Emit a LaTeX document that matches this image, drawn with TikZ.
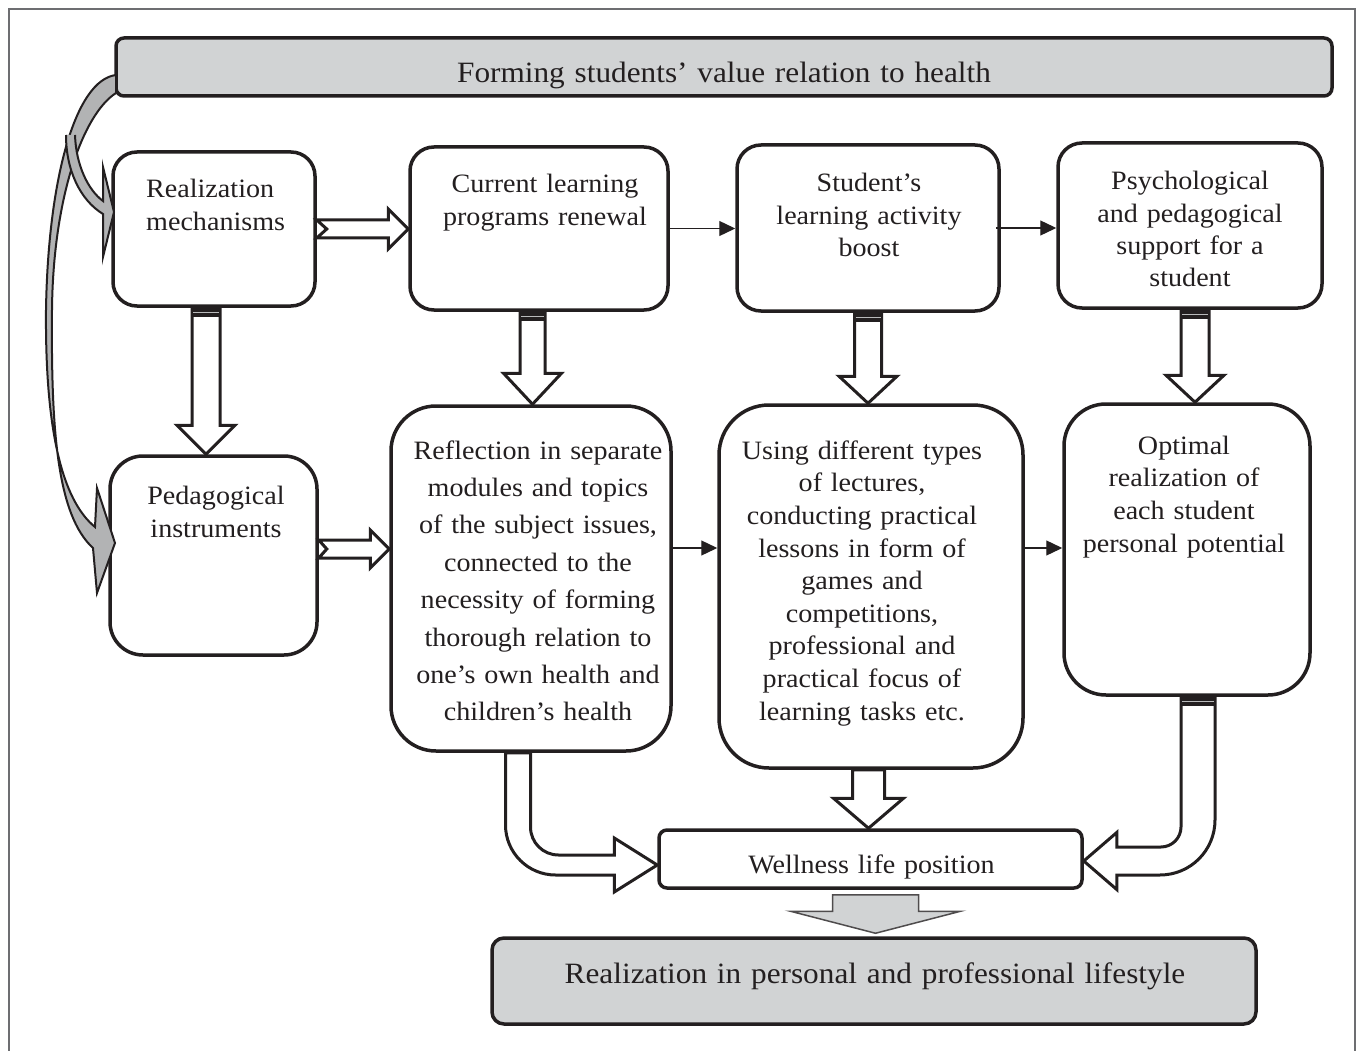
\documentclass[tikz,border=0pt]{standalone}
\usepackage{fontspec}
\setmainfont{Liberation Serif}[FakeStretch=1.06]
\usetikzlibrary{calc,arrows.meta}
\definecolor{ink}{HTML}{231F20}
\definecolor{boxgray}{HTML}{D1D3D4}
\definecolor{framegray}{HTML}{6D6E71}
\newcommand{\downblk}[6][blk]{%
  \draw[#1] let \p1=#2, \p2=#3 in
    (\x1-#4,\y1) -- (\x1-#4,\y2+#6) -- (\x1-#5,\y2+#6) -- (\x1,\y2)
    -- (\x1+#5,\y2+#6) -- (\x1+#4,\y2+#6) -- (\x1+#4,\y1) -- cycle;}
\newcommand{\rightblk}[6]{%
  \draw[blk] let \p1=#1, \p2=#2 in
    (\x1,\y1+#3) -- (\x2-#5,\y1+#3) -- (\x2-#5,\y1+#4) -- (\x2,\y1)
    -- (\x2-#5,\y1-#4) -- (\x2-#5,\y1-#3) -- (\x1,\y1-#3) -- (\x1+#6,\y1) -- cycle;}
\newcommand{\topband}[2]{%
  \fill[ink] let \p1=#1 in (\x1-#2,\y1) rectangle (\x1+#2,\y1-9pt);
  \draw[boxgray!70!gray, line width=1pt] let \p1=#1 in (\x1-#2+1pt,\y1-5pt) -- (\x1+#2-1pt,\y1-5pt);}
\tikzset{
  box/.style={draw=ink, fill=white, line width=3.5pt, rounded corners=#1, inner sep=0pt},
  box/.default=24pt,
  graybox/.style={box=#1, fill=boxgray},
  txt/.style={text=ink, inner sep=0pt, align=center, text width=300pt,
              font=\fontsize{26.5}{33}\selectfont},
  blk/.style={draw=ink, fill=white, line width=3pt, line join=miter},
  gblk/.style={draw=ink!80, fill=boxgray, line width=1.5pt},
  thinarr/.style={draw=ink, line width=1.3pt, -{Triangle[length=16pt,width=15pt]}},
  garrow/.style={draw=ink, fill=boxgray!85!black, line width=2pt, line join=miter},
}
\begin{document}
\begin{tikzpicture}[x=1pt, y=-1pt]
\useasboundingbox (0,0) rectangle (1358,1051);
% frame
\draw[framegray, line width=1.5pt] (9,1051) -- (9,9) -- (1355,9) -- (1355,1051);

% title
\node[graybox=8pt, minimum width=1216pt, minimum height=58pt] (tt) at (724,67) {};
\node[txt, font=\fontsize{29.5}{35}\selectfont, text width=700pt, anchor=base] (ttt) at (724,83)
  {Forming students’ value relation to health};

% top row
\node[box, minimum width=202pt, minimum height=154pt] (rm) at (214,229) {};
\node[txt, align=left, text width=200pt, anchor=base west] (rmt) at (146,198) {Realization\\mechanisms};

\node[box, minimum width=258pt, minimum height=163pt] (cl) at (539,228.5) {};
\node[txt, anchor=base] (clt) at (545,193) {Current learning\\programs renewal};

\node[box, minimum width=262pt, minimum height=166pt] (sb) at (868,228) {};
\node[txt, anchor=base, font=\fontsize{26.5}{32.5}\selectfont] (sbt) at (869,191.7)
  {Student’s\\learning activity\\boost};

\node[box, minimum width=264pt, minimum height=165pt] (ps) at (1190,225.5) {};
\node[txt, anchor=base, font=\fontsize{26.5}{32.3}\selectfont] (pst) at (1190,190)
  {Psychological\\and pedagogical\\support for a\\student};

% middle row
\node[box=33pt, minimum width=207pt, minimum height=199pt] (pi) at (213.5,555.5) {};
\node[txt, anchor=base] (pit) at (216,504) {Pedagogical\\instruments};

\node[box=45pt, minimum width=280pt, minimum height=345pt] (rf) at (531,578.5) {};
\node[txt, anchor=base, font=\fontsize{26.5}{37.4}\selectfont] (rft) at (538,459)
  {Reflection in separate\\modules and topics\\of the subject issues,\\connected to the\\necessity of forming\\thorough relation to\\one’s own health and\\children’s health};

\node[box=50pt, minimum width=304pt, minimum height=363pt] (ud) at (871,586.5) {};
\node[txt, anchor=base, font=\fontsize{26.5}{32.6}\selectfont] (udt) at (862,459.3)
  {Using different types\\of lectures,\\conducting practical\\lessons in form of\\games and\\competitions,\\professional and\\practical focus of\\learning tasks etc.};

\node[box=42pt, minimum width=246pt, minimum height=291pt] (op) at (1187,549.5) {};
\node[txt, anchor=base, font=\fontsize{26.5}{32.7}\selectfont] (opt) at (1184,454)
  {Optimal\\realization of\\each student\\personal potential};

% bottom
\node[box=8pt, minimum width=423pt, minimum height=58pt] (wl) at (870.5,859) {};
\node[txt, anchor=base, text width=500pt] (wlt) at (871.5,873) {Wellness life position};

\node[graybox=12pt, minimum width=764pt, minimum height=86pt] (rp) at (874,981) {};
\node[txt, font=\fontsize{29.5}{35}\selectfont, text width=760pt, anchor=base] (rpt) at (875,983)
  {Realization in personal and professional lifestyle};

% thin arrows
\coordinate (ymid) at (0,548);
\draw[thinarr] (cl.east) -- (cl.east -| sb.west);
\draw[thinarr] ($(sb.east)+(-5,0)$) -- (ps.west |- sb.east);
\draw[thinarr] (rf.east |- ymid) -- (ud.west |- ymid);
\draw[thinarr] (ud.east |- ymid) -- (op.west |- ymid);

% block arrows right
\rightblk{(rm.east)}{(cl.west)}{9pt}{20pt}{20pt}{10pt}
\rightblk{($(pi.east)+(0,-6.5)$)}{(rf.west)}{9pt}{19pt}{19pt}{8pt}

% block arrows down
\downblk{($(rm.south)+(-8,0)$)}{(pi.north)}{14pt}{29pt}{29pt}
\topband{($(rm.south)+(-8,0)$)}{14pt}
\downblk{($(cl.south)+(-6.5,0)$)}{(rf.north)}{12.5pt}{29pt}{31pt}
\topband{($(cl.south)+(-6.5,0)$)}{12.5pt}
\downblk{(sb.south)}{(ud.north)}{13.5pt}{29pt}{27pt}
\topband{(sb.south)}{13.5pt}
\downblk{($(ps.south)+(5,0)$)}{(op.north)}{14pt}{29pt}{27pt}
\topband{($(ps.south)+(5,0)$)}{14pt}
\downblk{($(ud.south)+(-2.5,0)$)}{(wl.north)}{16pt}{35pt}{30pt}
\downblk[gblk]{($(wl.south)+(5,5)$)}{($(rp.north)+(0,-3)$)}{43pt}{85pt}{22pt}

% bent arrow left: rf -> wl
\draw[blk] let \p1=($(rf.south)+(-13,0)$), \p2=($(wl.west)+(0,6)$) in
  (\x1-12.5pt,\y1) -- (\x1-12.5pt,\y2+40pt)
  .. controls (\x1-12.5pt,\y2+12.4pt) and (\x1+10pt,\y2-10pt) .. (\x1+37.5pt,\y2-10pt)
  -- (\x2-43pt,\y2-10pt) -- (\x2-43pt,\y2-27pt) -- (\x2,\y2) -- (\x2-43pt,\y2+27pt)
  -- (\x2-43pt,\y2+10pt) -- (\x1+40.5pt,\y2+10pt)
  .. controls (\x1+25pt,\y2+10pt) and (\x1+12.5pt,\y2+22.5pt) .. (\x1+12.5pt,\y2+38pt)
  -- (\x1+12.5pt,\y1) -- cycle;

% bent arrow right: op -> wl
\draw[blk] let \p1=($(op.south)+(11,0)$), \p2=($(wl.east)+(0,2)$) in
  (\x1-17pt,\y1) -- (\x1-17pt,\y2+34pt)
  .. controls (\x1-17pt,\y2+23pt) and (\x1-26pt,\y2+14pt) .. (\x1-37pt,\y2+14pt)
  -- (\x2+33pt,\y2+14pt) -- (\x2+33pt,\y2+28.5pt) -- (\x2,\y2) -- (\x2+33pt,\y2-28.5pt)
  -- (\x2+33pt,\y2-14pt) -- (\x1-38pt,\y2-14pt)
  .. controls (\x1-7.6pt,\y2-14pt) and (\x1+17pt,\y2+10.6pt) .. (\x1+17pt,\y2+41pt)
  -- (\x1+17pt,\y1) -- cycle;
\topband{($(op.south)+(11,0)$)}{17pt}

% gray curved arrows from the title
\filldraw[garrow] (116,75) .. controls (75,80) and (48,180) .. (46,310)
  .. controls (45,430) and (62,500) .. (95,527) -- (97,488) -- (115,543) -- (97,593) -- (93,548)
  .. controls (57,515) and (51,430) .. (52,310)
  .. controls (53,200) and (82,115) .. (116,93) -- cycle;
\fill[boxgray!85!black] (66,135) .. controls (66,170) and (80,200) .. (103,214) -- (103,257)
  -- (114,212) -- (103,167) -- (103,201) .. controls (88,190) and (76,165) .. (75,135) -- cycle;
\draw[ink, line width=2pt, line join=miter] (66,135) .. controls (66,170) and (80,200) .. (103,214) -- (103,257)
  -- (114,212) -- (103,167) -- (103,201) .. controls (88,190) and (76,165) .. (75,135);
\end{tikzpicture}
\end{document}
